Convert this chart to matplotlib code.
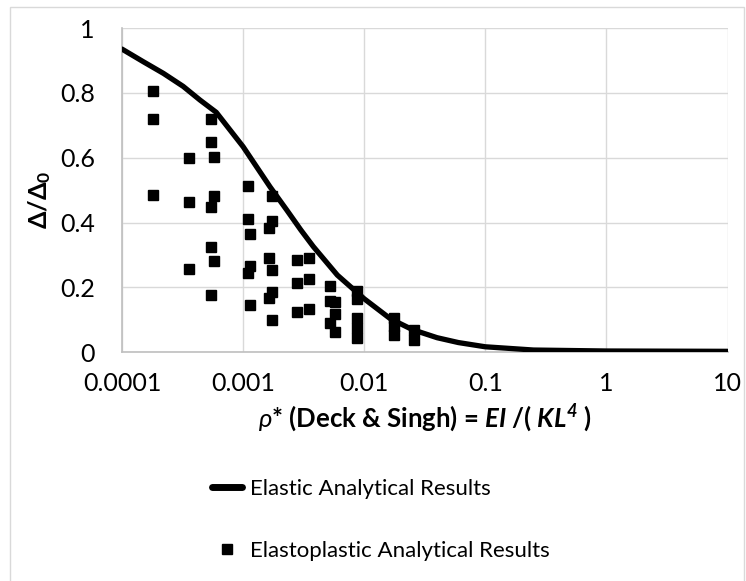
import matplotlib
matplotlib.use("Agg")
import matplotlib.pyplot as plt
from matplotlib.lines import Line2D
from matplotlib.patches import Rectangle

plt.rcParams['font.family'] = ['Lato', 'DejaVu Sans']
plt.rcParams['mathtext.fontset'] = 'custom'
plt.rcParams['mathtext.rm'] = 'Lato'
plt.rcParams['mathtext.it'] = 'Lato:italic'
plt.rcParams['mathtext.bf'] = 'Lato:bold'
plt.rcParams['mathtext.bfit'] = 'Lato:italic:bold'
plt.rcParams['mathtext.fallback'] = 'stixsans'

# Elastic analytical curve
elastic_x = [1e-4, 1.5e-4, 2.2e-4, 3.2e-4, 4.4e-4, 6e-4, 1e-3, 1.67e-3, 2.3e-3,
             3e-3, 3.8e-3, 6e-3, 1e-2, 1.65e-2, 2.5e-2, 4e-2, 6e-2, 1e-1, 2.5e-1,
             1.0, 10.0]
elastic_y = [0.935, 0.896, 0.86, 0.82, 0.778, 0.74, 0.634, 0.51, 0.438,
             0.377, 0.326, 0.238, 0.165, 0.103, 0.07, 0.045, 0.03, 0.017, 0.007,
             0.004, 0.003]

# Elastoplastic analytical results
plastic_x = [1.8e-4, 1.8e-4, 1.8e-4,
             3.6e-4, 3.6e-4, 3.6e-4,
             5.4e-4, 5.4e-4, 5.4e-4, 5.4e-4, 5.4e-4,
             5.75e-4, 5.75e-4, 5.75e-4,
             1.09e-3, 1.09e-3, 1.09e-3,
             1.15e-3, 1.15e-3, 1.15e-3,
             1.73e-3, 1.73e-3, 1.73e-3, 1.73e-3, 1.73e-3,
             1.63e-3, 1.63e-3, 1.63e-3,
             2.81e-3, 2.81e-3, 2.81e-3,
             3.47e-3, 3.47e-3, 3.47e-3,
             5.17e-3, 5.17e-3, 5.17e-3,
             5.76e-3, 5.76e-3, 5.76e-3,
             8.7e-3, 8.7e-3, 8.7e-3, 8.7e-3, 8.7e-3,
             1.75e-2, 1.75e-2, 1.75e-2,
             2.6e-2, 2.6e-2]
plastic_y = [0.805, 0.72, 0.485,
             0.60, 0.463, 0.258,
             0.72, 0.649, 0.447, 0.326, 0.176,
             0.602, 0.481, 0.28,
             0.514, 0.41, 0.243,
             0.364, 0.266, 0.146,
             0.482, 0.406, 0.254, 0.185, 0.10,
             0.383, 0.29, 0.166,
             0.285, 0.214, 0.124,
             0.292, 0.225, 0.133,
             0.204, 0.159, 0.091,
             0.154, 0.118, 0.062,
             0.19, 0.163, 0.105, 0.075, 0.043,
             0.105, 0.08, 0.053,
             0.069, 0.038]

x_ticks = [1e-4, 1e-3, 1e-2, 1e-1, 1, 10]
x_tick_labels = ['0.0001', '0.001', '0.01', '0.1', '1', '10']
y_ticks = [0, 0.2, 0.4, 0.6, 0.8, 1.0]
y_tick_labels = ['0', '0.2', '0.4', '0.6', '0.8', '1']

W, H = 746, 581
fig = plt.figure(figsize=(W / 100, H / 100), dpi=100)
fig.patches.append(Rectangle((10 / W, -0.05), 734 / W, 1.05 - 7 / H,
                             transform=fig.transFigure, fill=False,
                             edgecolor='#d9d9d9', linewidth=1.0))

left, right, top, bottom = 122, 727.5, 28, 352.3
ax = fig.add_axes([left / W, 1 - bottom / H, (right - left) / W, (bottom - top) / H])
ax.set_xscale('log')
ax.set_xlim(1e-4, 10)
ax.set_ylim(0, 1)

ax.plot(elastic_x, elastic_y, color='black', linewidth=3.8,
        solid_capstyle='round', solid_joinstyle='round', zorder=3)
ax.plot(plastic_x, plastic_y, linestyle='none', marker='s', color='black',
        markersize=6.6, zorder=4)

ax.set_xticks(x_ticks)
ax.set_xticklabels(x_tick_labels)
ax.set_yticks(y_ticks)
ax.set_yticklabels(y_tick_labels)
ax.minorticks_off()
ax.tick_params(axis='both', length=0, labelsize=18, colors='black')
ax.tick_params(axis='y', pad=19.5)
ax.tick_params(axis='x', pad=14)
ax.grid(True, color='#d9d9d9', linewidth=1.0)
ax.set_axisbelow(True)
for s in ['top', 'right']:
    ax.spines[s].set_visible(False)
for s in ['left', 'bottom']:
    ax.spines[s].set_color('#bfbfbf')
    ax.spines[s].set_linewidth(1.2)

fig.text(425 / W, 1 - 418 / H,
         r'$\mathit{\rho}$* (Deck & Singh) = $\mathbfit{EI}$ /( $\mathbfit{KL^4}$ )',
         ha='center', va='center', fontsize=18.5, fontweight='bold')
fig.text(40 / W, 1 - 200 / H, r'$\mathbf{\Delta/\Delta_0}$', rotation=90,
         ha='center', va='center', fontsize=18, fontweight='bold')

handles = [Line2D([], [], color='black', linewidth=5, solid_capstyle='round'),
           Line2D([], [], linestyle='none', marker='s', color='black', markersize=6.6)]
fig.legend(handles, ['Elastic Analytical Results', 'Elastoplastic Analytical Results'],
           loc='upper left', bbox_to_anchor=(192 / W, 1 - 459 / H),
           frameon=False, fontsize=16, labelspacing=1.9, handlelength=1.35,
           handletextpad=0.37)

fig.savefig('out.png', dpi=100)
